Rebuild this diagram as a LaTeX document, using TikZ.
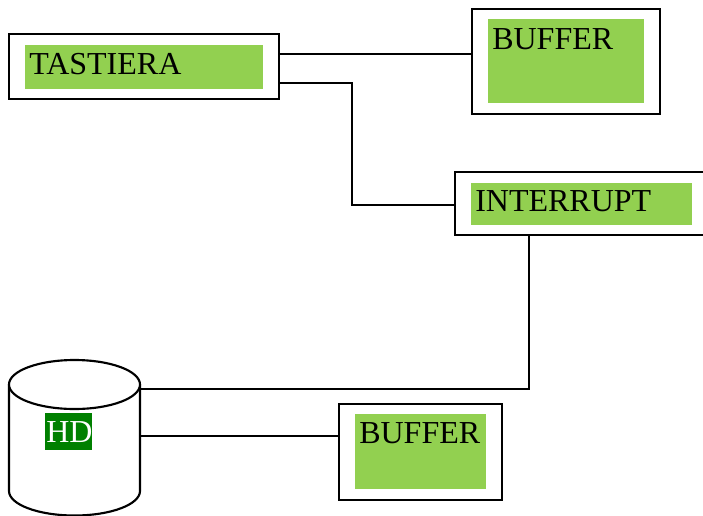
\documentclass[tikz,border=0pt]{standalone}
\usepackage{fontspec}
\setmainfont{Liberation Serif}
\definecolor{lgreen}{HTML}{92D050}
\definecolor{dgreen}{HTML}{008000}
\tikzset{
 box/.style={draw=black,line width=1.6pt,fill=white,inner sep=0pt,anchor=north west},
 fillbox/.style={fill=lgreen,inner sep=0pt,anchor=north west},
 lbl/.style={inner sep=0pt,anchor=base west,font=\fontsize{24pt}{24pt}\selectfont},
 wire/.style={draw=black,line width=1.6pt}
}
\begin{document}
\begin{tikzpicture}[x=0.75pt,y=-0.75pt]
\useasboundingbox (0,0) rectangle (703,515);
\clip (0,0) rectangle (703,515);
\node[box,minimum width=202.5pt,minimum height=48.75pt] (tbox) at (8,33) {};
\node[box,minimum width=141pt,minimum height=78.75pt] (bbox) at (471,8) {};
\node[box,minimum width=186.75pt,minimum height=47.25pt] (ibox) at (454,171) {};
\node[box,minimum width=122.25pt,minimum height=72pt] (btwobox) at (338,403) {};
\node[fillbox,minimum width=178.5pt,minimum height=33pt] (tfill) at (25,45) {};
\node[fillbox,minimum width=117pt,minimum height=63pt] (bfill) at (488,19) {};
\node[fillbox,minimum width=165.75pt,minimum height=31.5pt] (ifill) at (471,183) {};
\node[fillbox,minimum width=98.25pt,minimum height=56.25pt] (btwofill) at (355,414) {};
\node[lbl] (tl) at (29,74.5) {TASTIERA};
\node[lbl] (bl) at (492,49.5) {BUFFER};
\node[lbl] (il) at (475,211.5) {INTERRUPT};
\node[lbl] (btwol) at (359,443.5) {BUFFER};
% cylinder
\draw[wire,fill=white] (9,384.5) -- (9,491) arc[x radius=65.5,y radius=24.5,start angle=180,end angle=0] -- (140,384.5);
\draw[wire,fill=white] (74.5,384.5) ellipse[x radius=65.5,y radius=24.5];
\node[fill=dgreen,inner sep=0pt,anchor=north west,minimum width=35.25pt,minimum height=27.75pt] (hdf) at (45,413) {};
\node[lbl,text=white] (hd) at (46,442.5) {HD};
\coordinate (ca) at (140,389);
\coordinate (cb) at (140,436);
\coordinate (ta) at (280,54);
\coordinate (tb) at (280,83);
\coordinate (ia) at (455,205);
\coordinate (ib) at (529,235);
\coordinate (ba) at (472,54);
\coordinate (bb) at (339,436);
\draw[wire] (ta) -- (ba);
\draw[wire] (tb) -- (352,83) -- (352,205) -- (ia);
\draw[wire] (ca) -| (ib);
\draw[wire] (cb) -- (bb);
\end{tikzpicture}
\end{document}
